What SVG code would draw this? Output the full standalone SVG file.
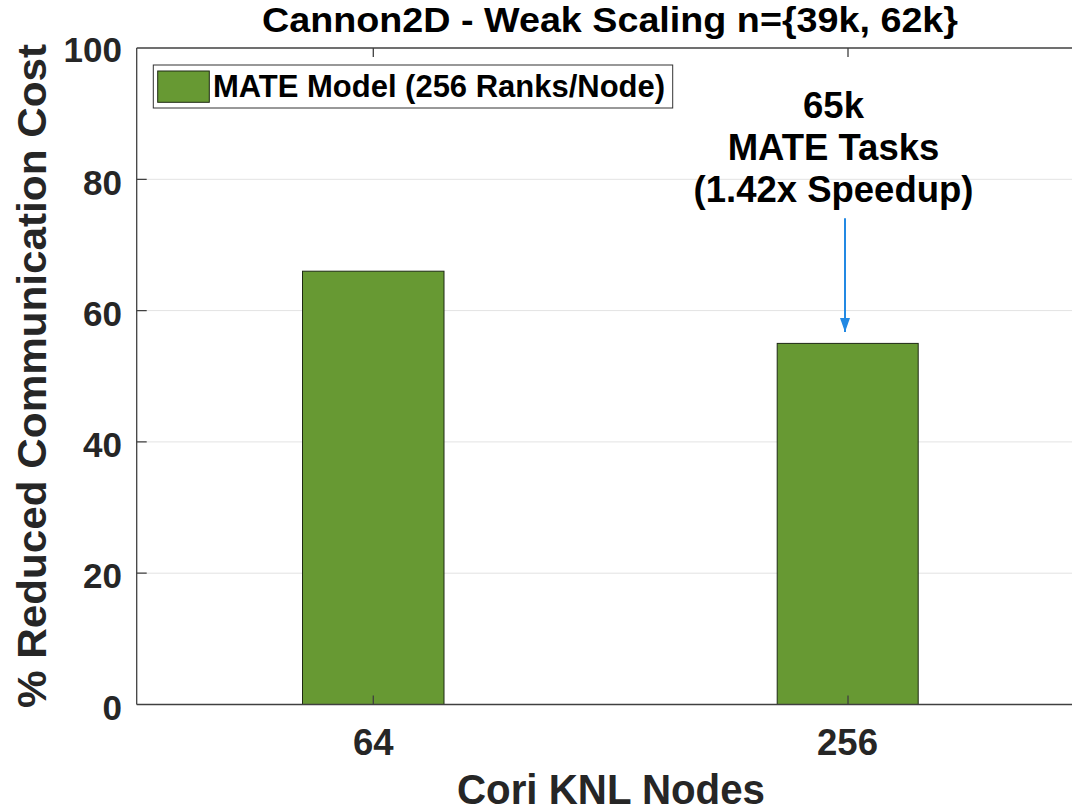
<svg xmlns="http://www.w3.org/2000/svg" width="1072" height="811" viewBox="0 0 1072 811">
  <style>
    .txt { font-family: "Liberation Sans", Arial, sans-serif; font-weight: bold; }
    .tick { font-size: 35px; fill: #262626; }
    .grid { stroke: #e3e3e3; stroke-width: 1; }
    .axis { stroke: #404040; stroke-width: 1.3; fill: none; }
    .bar { fill: #679933; stroke: #1f2a14; stroke-width: 1; }
    .note { font-size: 36.5px; fill: #000; }
  </style>
  <defs>
    <marker id="arrowhead" markerWidth="14" markerHeight="10" refX="14" refY="5" orient="auto" markerUnits="userSpaceOnUse" viewBox="0 0 14 10">
      <path d="M0,0 L14,5 L0,10 Z" fill="#2389e3"/>
    </marker>
  </defs>
  <rect width="1072" height="811" fill="#ffffff"/>

  <!-- plot area: y 0..100 maps to 704.5..48 -->
  <g id="grid">
    <line class="grid" x1="137" y1="179.3" x2="1072" y2="179.3"/>
    <line class="grid" x1="137" y1="310.6" x2="1072" y2="310.6"/>
    <line class="grid" x1="137" y1="441.9" x2="1072" y2="441.9"/>
    <line class="grid" x1="137" y1="573.2" x2="1072" y2="573.2"/>
  </g>

  <g id="bars">
    <rect id="bar-64" class="bar" x="302.5" y="271.2" width="141.5" height="433.3"/>
    <rect id="bar-256" class="bar" x="777.2" y="343.4" width="141" height="361.1"/>
  </g>

  <g id="axes">
    <line class="axis" x1="136.7" y1="48" x2="1072" y2="48"/>
    <line class="axis" x1="136.7" y1="48" x2="136.7" y2="704.5"/>
    <line class="axis" x1="136.7" y1="704.5" x2="1072" y2="704.5"/>
    <!-- y ticks -->
    <path class="axis" d="M136.7,179.3 h10 M136.7,310.6 h10 M136.7,441.9 h10 M136.7,573.2 h10"/>
    <!-- x ticks, bottom and top -->
    <path class="axis" d="M373.3,704.5 v-9 M848,704.5 v-9 M373.3,48 v9 M848,48 v9"/>
  </g>

  <g id="y-tick-labels" class="txt tick" text-anchor="end">
    <text x="122" y="61.5">100</text>
    <text x="122" y="194.5">80</text>
    <text x="122" y="325.8">60</text>
    <text x="122" y="457.1">40</text>
    <text x="122" y="588.4">20</text>
    <text x="122" y="719.7">0</text>
  </g>

  <g id="x-tick-labels" class="txt tick" text-anchor="middle">
    <text x="373.3" y="755" font-size="36.5">64</text>
    <text x="847.5" y="755" font-size="36.5">256</text>
  </g>

  <g id="axis-labels" class="txt" fill="#262626">
    <text x="611" y="804" font-size="42" text-anchor="middle" textLength="308" lengthAdjust="spacingAndGlyphs">Cori KNL Nodes</text>
    <text transform="translate(46,376) rotate(-90)" font-size="41" text-anchor="middle" textLength="664" lengthAdjust="spacingAndGlyphs">% Reduced Communication Cost</text>
  </g>

  <g id="title" class="txt">
    <text x="610" y="32" font-size="35" fill="#000" text-anchor="middle" textLength="696" lengthAdjust="spacingAndGlyphs">Cannon2D - Weak Scaling n={39k, 62k}</text>
  </g>

  <g id="legend">
    <rect x="153.3" y="65" width="519.4" height="43" fill="#ffffff" stroke="#333333" stroke-width="1"/>
    <rect x="157.7" y="71" width="51.6" height="31.3" class="bar"/>
    <text class="txt" x="213" y="97.3" font-size="31" fill="#000" textLength="452" lengthAdjust="spacingAndGlyphs">MATE Model (256 Ranks/Node)</text>
  </g>

  <g id="annotation" class="txt note" text-anchor="middle">
    <text x="833.5" y="118.3">65k</text>
    <text x="833.5" y="160">MATE Tasks</text>
    <text x="833.5" y="201.7">(1.42x Speedup)</text>
  </g>

  <g id="connectors">
    <line x1="845" y1="218.3" x2="845" y2="332" stroke="#2389e3" stroke-width="2" marker-end="url(#arrowhead)"/>
  </g>
</svg>
